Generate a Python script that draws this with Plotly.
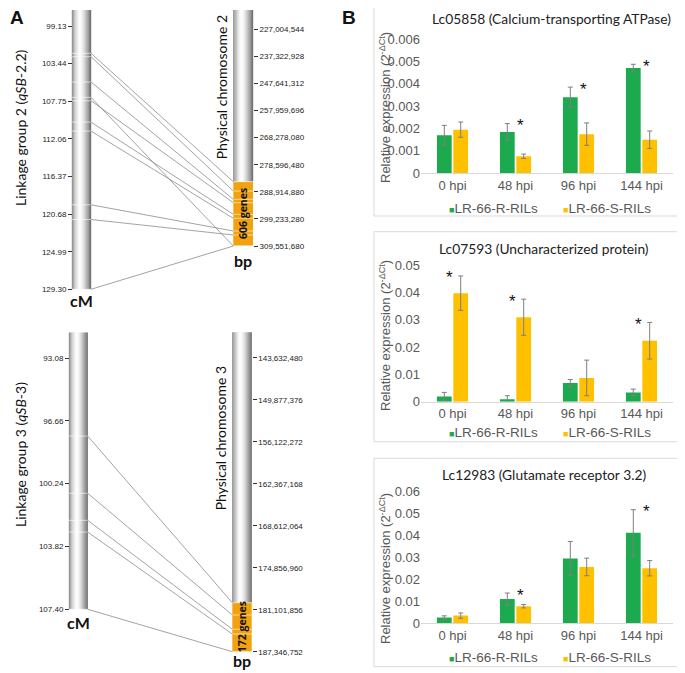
import plotly.graph_objects as go

# the page body adds an 8 px margin, so the figure is 8 px smaller and all
# layout positions below are given in window pixels and shifted by OFF
W, H, OFF = 685, 673, 8
FW, FH = W - OFF, H - OFF

# ---------------- panel A: linkage groups vs physical chromosomes ----------------
lg2_ticks = [99.13, 103.44, 107.75, 112.06, 116.37, 120.68, 124.99, 129.30]
chr2_ticks = [227004544, 237322928, 247641312, 257959696, 268278080,
              278596480, 288914880, 299233280, 309551680]
lg2_markers = [102.26, 102.65, 105.55, 107.31, 107.70, 110.14, 111.17, 119.62, 121.30, 129.30]
chr2_hits = [285057000, 288600000, 291762000, 309551680, 293058000,
             297476000, 298999000, 303837000, 305361000, 309551680]
lg2_span = [97.30, 129.30]
chr2_span = [219650000, 309551680]
chr2_qtl = [285057000, 309551680]
chr2_genes = 606

lg3_ticks = [93.08, 96.66, 100.24, 103.82, 107.40]
chr3_ticks = [143632480, 149877376, 156122272, 162367168, 168612064, 174856960,
              181101856, 187346752]
lg3_markers = [97.53, 100.79, 102.33, 103.00, 107.40]
chr3_hits = [180060000, 181890000, 184015000, 184716000, 187346752]
lg3_span = [91.62, 107.40]
chr3_span = [139856000, 187346752]
chr3_qtl = [180060000, 187346752]
chr3_genes = 172

# ---------------- panel B: qRT-PCR expression ----------------
timepoints = ["0 hpi", "48 hpi", "96 hpi", "144 hpi"]
groups = ["LR-66-R-RILs", "LR-66-S-RILs"]
gene_titles = ["Lc05858 (Calcium-transporting ATPase)",
               "Lc07593 (Uncharacterized protein)",
               "Lc12983 (Glutamate receptor 3.2)"]
r_mean = [[0.00170, 0.00185, 0.00340, 0.00470],
          [0.0019, 0.0009, 0.0068, 0.0034],
          [0.0027, 0.0111, 0.0296, 0.0413]]
r_err = [[0.00044, 0.00037, 0.00045, 0.00017],
         [0.0015, 0.0013, 0.0013, 0.0012],
         [0.0007, 0.0027, 0.0077, 0.0105]]
s_mean = [[0.00195, 0.00076, 0.00175, 0.00150],
          [0.0397, 0.0309, 0.0087, 0.0223],
          [0.0035, 0.0078, 0.0257, 0.0251]]
s_err = [[0.00034, 0.00010, 0.00050, 0.00039],
         [0.0063, 0.0066, 0.0065, 0.0067],
         [0.0012, 0.0008, 0.0040, 0.0035]]
signif = [[False, True, True, True],
          [True, True, False, True],
          [False, True, False, True]]
y_max = [0.006, 0.05, 0.06]
y_step = [0.001, 0.01, 0.01]

GREEN, GOLD, ORANGE = "#1DAA4E", "#FFC000", "#F2A20E"
GREY_TXT = "#595959"


def px(x):
    return (x - OFF) / FW


def py(y):
    return 1 - (y - OFF) / FH


def note(x, y, text, size, family="Lato", color="#111", angle=0, **kw):
    d = dict(xref="paper", yref="paper", x=px(x), y=py(y), text=text, textangle=angle,
             showarrow=False, xanchor="center", yanchor="middle",
             font=dict(family=family, size=size, color=color))
    d.update(kw)
    return d


fig = go.Figure()
shapes, annotations = [], []

maps = [
    dict(lg=lg2_ticks, chrom=chr2_ticks, markers=lg2_markers, hits=chr2_hits,
         lg_span=lg2_span, chr_span=chr2_span, qtl=chr2_qtl, genes=chr2_genes,
         top=8, bot=300, cm_ref=(26.0, 289.3), bp_ref=(29.3, 246.0),
         lx=(72, 91), rx=(233.3, 253), xa="x", ya="y", yb="y2",
         lg_label="Linkage group 2 (<i>qSB</i>-2.2)", ch_label="Physical chromosome 2",
         lg_y=128, ch_y=87, cm_y=301, bp_y=261),
    dict(lg=lg3_ticks, chrom=chr3_ticks, markers=lg3_markers, hits=chr3_hits,
         lg_span=lg3_span, chr_span=chr3_span, qtl=chr3_qtl, genes=chr3_genes,
         top=325, bot=662, cm_ref=(358.0, 609.3), bp_ref=(357.7, 651.7),
         lx=(69, 87.7), rx=(232.3, 251.7), xa="x2", ya="y3", yb="y4",
         lg_label="Linkage group 3 (<i>qSB</i>-3)", ch_label="Physical chromosome 3",
         lg_y=455, ch_y=438, cm_y=622, bp_y=660),
]


def grey(t):
    # cylinder shading for a chromosome strip
    if t < 0.42:
        v = 255 - 120 * ((0.42 - t) / 0.42) ** 1.5
    else:
        v = 255 - 150 * ((t - 0.42) / 0.58) ** 1.5
    v = int(v)
    return f"rgb({v},{v},{v})"


def cylinder(xref, x0, x1, yref, y0, y1, n=16):
    w = (x1 - x0) / n
    for i in range(n):
        shapes.append(dict(type="rect", xref=xref, yref=yref,
                           x0=x0 + i * w - 0.2, x1=x0 + (i + 1) * w + 0.2,
                           y0=y0, y1=y1, fillcolor=grey((i + 0.5) / n),
                           line=dict(width=0), layer="below"))


for k, m in enumerate(maps):
    XREF = m["xa"]
    (p0, p1), (c0, c1) = m["cm_ref"], (m["lg"][0], m["lg"][-1])
    cm_per_px = (c1 - c0) / (p1 - p0)
    cm_rng = [c0 + (m["bot"] - p0) * cm_per_px, c0 + (m["top"] - p0) * cm_per_px]
    (q0, q1), (b0, b1) = m["bp_ref"], (m["chrom"][0], m["chrom"][-1])
    bp_per_px = (b1 - b0) / (q1 - q0)
    bp_rng = [b0 + (m["bot"] - q0) * bp_per_px, b0 + (m["top"] - q0) * bp_per_px]

    def to_cm(bp, cm_rng=cm_rng, bp_rng=bp_rng):
        return cm_rng[0] + (bp - bp_rng[0]) * (cm_rng[1] - cm_rng[0]) / (bp_rng[1] - bp_rng[0])

    lx0, lx1 = m["lx"]
    rx0, rx1 = m["rx"]

    # chromosomes
    cylinder(XREF, lx0, lx1, m["ya"], m["lg_span"][0], m["lg_span"][1])
    cylinder(XREF, rx0, rx1, m["yb"], m["chr_span"][0], m["qtl"][0])
    shapes.append(dict(type="rect", xref=XREF, yref=m["yb"], x0=rx0, x1=rx1,
                       y0=m["qtl"][0], y1=m["qtl"][1], fillcolor=ORANGE,
                       line=dict(width=0), layer="below"))

    # connectors between genetic and physical positions
    cx, cy, hx, hy = [], [], [], []
    for cm, bp in zip(m["markers"], m["hits"]):
        cx += [lx1, rx0, None]
        cy += [cm, to_cm(bp), None]
        hx += [lx0, lx1, None, rx0, rx1, None]
        hy += [cm, cm, None, to_cm(bp), to_cm(bp), None]
    fig.add_trace(go.Scatter(x=hx, y=hy, mode="lines", xaxis=XREF, yaxis=m["ya"],
                             line=dict(color="rgba(255,255,255,0.6)", width=1),
                             hoverinfo="skip", showlegend=False))
    fig.add_trace(go.Scatter(x=cx, y=cy, mode="lines", xaxis=XREF, yaxis=m["ya"],
                             line=dict(color="#8c8c8c", width=0.8),
                             hoverinfo="skip", showlegend=False))

    xkey = "xaxis" if k == 0 else "xaxis2"
    ykey_a = m["ya"].replace("y", "yaxis")
    ykey_b = m["yb"].replace("y", "yaxis")
    dom = [py(m["bot"]), py(m["top"])]
    tick_common = dict(showgrid=False, zeroline=False, showline=False, ticks="outside",
                       ticklen=4, tickwidth=1, tickcolor="#333", automargin=False,
                       tickfont=dict(family="Liberation Sans", size=8, color="#222"))
    fig.update_layout(**{
        # x units of the map panels are window pixels
        xkey: dict(domain=[0, px(340)], range=[OFF, 340], visible=False, anchor=m["ya"],
                   automargin=False),
        ykey_a: dict(domain=dom, range=cm_rng, anchor="free", position=px(lx0), side="left",
                     tickvals=m["lg"], ticktext=[f"{v:.2f}" for v in m["lg"]], **tick_common),
        ykey_b: dict(overlaying=m["ya"], range=bp_rng, anchor="free", position=px(rx1),
                     side="right", tickvals=m["chrom"], ticktext=[f"{v:,}" for v in m["chrom"]],
                     **tick_common),
    })

    annotations += [
        dict(xref=XREF, yref=m["yb"], x=(rx0 + rx1) / 2, y=(m["qtl"][0] + m["qtl"][1]) / 2,
             text=f"<b>{m['genes']} genes</b>", textangle=-90, showarrow=False,
             xanchor="center", yanchor="middle",
             font=dict(family="Open Sans", size=10.5, color="#111")),
        note(20, m["lg_y"], m["lg_label"], 14, angle=-90),
        note(rx0 - 12, m["ch_y"], m["ch_label"], 14, angle=-90),
        note((lx0 + lx1) / 2, m["cm_y"], "<b>cM</b>", 16),
        note((rx0 + rx1) / 2, m["bp_y"], "<b>bp</b>", 16),
    ]

# ---------------- panel B charts ----------------
boxes = [(5, 216), (231.7, 441.7), (458.3, 666.7)]
plot_y = [(39, 173.3), (265, 401.7), (491.7, 623.3)]
title_xy = [(551.5, 18), (543.5, 248), (543.5, 474)]
legend_y = [208, 432, 657]
ytitle_y = [108, 336, 569]
PX0, PX1 = 421, 673

for i in range(3):
    xa = f"x{i + 3}"
    ya = f"y{i + 5}"
    fig.add_trace(go.Bar(x=timepoints, y=r_mean[i], name=groups[0], marker_color=GREEN,
                         error_y=dict(type="data", array=r_err[i], color="#7f7f7f",
                                      thickness=1, width=2.5),
                         xaxis=xa, yaxis=ya, showlegend=False))
    fig.add_trace(go.Bar(x=timepoints, y=s_mean[i], name=groups[1], marker_color=GOLD,
                         error_y=dict(type="data", array=s_err[i], color="#7f7f7f",
                                      thickness=1, width=2.5),
                         xaxis=xa, yaxis=ya, showlegend=False))
    top, bot = plot_y[i]
    fig.update_layout(**{
        f"xaxis{i + 3}": dict(domain=[px(PX0), px(PX1)], anchor=ya, showline=True,
                              linecolor="#d9d9d9", linewidth=1, ticks="", showgrid=False,
                              automargin=False,
                              tickfont=dict(family="Liberation Sans", size=13, color=GREY_TXT)),
        f"yaxis{i + 5}": dict(domain=[py(bot), py(top)], anchor=xa, range=[0, y_max[i]],
                              dtick=y_step[i], showgrid=False, zeroline=False, showline=False,
                              automargin=False,
                              tickfont=dict(family="Liberation Sans", size=13, color=GREY_TXT)),
    })
    b0, b1 = boxes[i]
    shapes.append(dict(type="rect", xref="paper", yref="paper", x0=px(374), x1=px(683.5),
                       y0=py(b1), y1=py(b0), line=dict(color="#d9d9d9", width=1)))
    tx, ty = title_xy[i]
    annotations.append(note(tx, ty, gene_titles[i], 13.8, color="#222"))
    annotations.append(note(385, ytitle_y[i], "Relative expression (2<sup>-ΔCt</sup>)", 13,
                            family="Liberation Sans", color=GREY_TXT, angle=-90))
    for gx, name, col in [(447, groups[0], GREEN), (561, groups[1], GOLD)]:
        annotations.append(note(gx, legend_y[i],
                                f"<span style='color:{col};font-size:9px'>■</span>{name}",
                                13.5, family="Liberation Sans", color=GREY_TXT, xanchor="left"))
    for j, t in enumerate(timepoints):
        if not signif[i][j]:
            continue
        g_top = r_mean[i][j] + r_err[i][j]
        s_top = s_mean[i][j] + s_err[i][j]
        annotations.append(dict(xref=xa, yref=ya, x=t, y=max(g_top, s_top), text="*",
                                showarrow=False, xanchor="center", yanchor="middle",
                                xshift=5 if g_top > s_top else -3, yshift=-2,
                                font=dict(family="Liberation Sans", size=17, color="#111")))

annotations += [
    note(8, 5, "<b>A</b>", 19, family="Liberation Sans", xanchor="left", yanchor="top"),
    note(349, 5, "<b>B</b>", 19, family="Liberation Sans", yanchor="top"),
]

fig.update_layout(template="none", width=FW, height=FH, margin=dict(l=0, r=0, t=0, b=0, pad=0),
                  paper_bgcolor="white", plot_bgcolor="rgba(0,0,0,0)",
                  barmode="group", bargap=0.48, bargroupgap=0.1, showlegend=False,
                  shapes=shapes, annotations=annotations)

fig.write_html("out.html")
